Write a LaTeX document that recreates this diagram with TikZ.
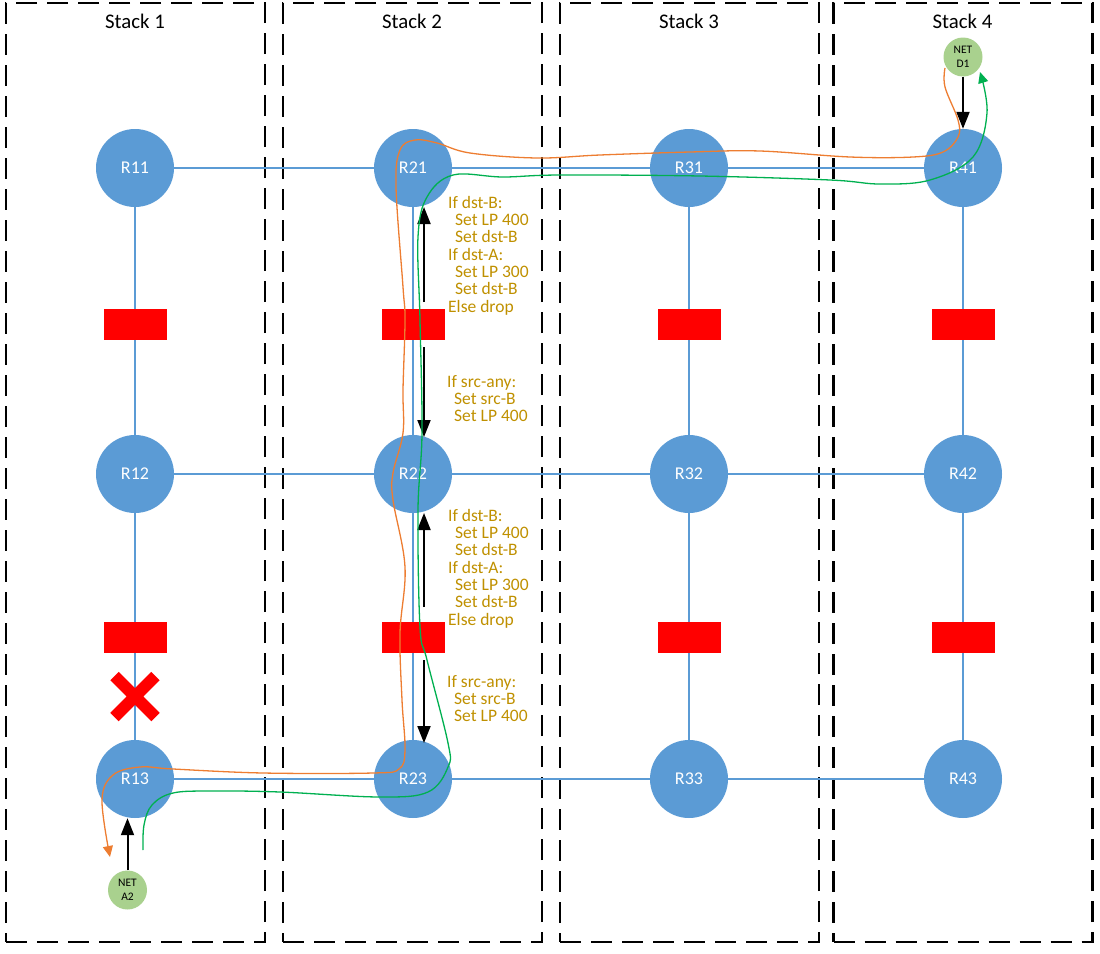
\documentclass[tikz,border=0pt]{standalone}
\usepackage{fontspec}
\setmainfont{Carlito}
\usetikzlibrary{arrows.meta,shapes.misc}
\definecolor{routerblue}{HTML}{5B9BD5}
\definecolor{netgreen}{HTML}{A9D18E}
\definecolor{pathorange}{HTML}{ED7D31}
\definecolor{pathgreen}{HTML}{00B050}
\definecolor{ruletext}{HTML}{BF9000}
\tikzset{
    stackbox/.style={draw=black,line width=2.5pt,dash pattern=on 21pt off 10pt,minimum width=259pt,minimum height=939pt,inner sep=0pt},
    stacktitle/.style={font=\fontsize{20.8}{21}\selectfont,inner sep=0pt},
    router/.style={circle,fill=routerblue,text=white,minimum size=78pt,inner sep=0pt,font=\fontsize{18}{18}\selectfont},
    netnode/.style={circle,fill=netgreen,minimum size=39pt,inner sep=0pt,align=center,font=\fontsize{11.5}{14}\selectfont},
    firewall/.style={fill=red,minimum width=63pt,minimum height=31pt,inner sep=0pt},
    link/.style={draw=routerblue,line width=1.5pt},
    policy/.style={-{Triangle[width=13pt,length=17pt]},black,line width=2pt},
    rule/.style={text=ruletext,anchor=north west,align=left,inner sep=0pt,font=\fontsize{17.5}{17.3}\selectfont},
    crossmark/.style={cross out,draw=red,line width=12pt,minimum size=29pt,inner sep=0pt},
    pathline/.style={line width=1.3pt,-{Triangle[width=10pt,length=11pt]}}
}
\newcommand{\ind}{\hspace*{7pt}}
\begin{document}
\begin{tikzpicture}[x=1pt,y=-1pt]
    \useasboundingbox (0,0) rectangle (1100,953);

    %% Stacks
    \foreach \num/\x in {1/135.5,2/412.5,3/689.5,4/963}{
        \node[stackbox] (stack\num) at (\x,472.5) {};
        \node[stacktitle] (title\num) at (\x-0.5,21) {Stack \num};
    }

    %% Routers
    \foreach \col/\x in {1/135,2/413,3/689,4/963}{
        \foreach \row/\y in {1/168,2/474,3/779}{
            \node[router] (r\col\row) at (\x,\y) {R\col\row};
        }
    }

    %% Links
    \foreach \row in {1,2,3}{
        \draw[link] (r1\row) -- (r2\row);
        \draw[link] (r2\row) -- (r3\row);
        \draw[link] (r3\row) -- (r4\row);
    }
    \foreach \col in {1,2,3,4}{
        \draw[link] (r\col1) -- (r\col2);
        \draw[link] (r\col2) -- (r\col3);
    }

    %% Firewalls
    \foreach \col/\x in {1/135,2/413,3/689.5,4/963.5}{
        \node[firewall] (fwa\col) at (\x,324.5) {};
        \node[firewall] (fwb\col) at (\x,637.5) {};
    }
    \node[crossmark] (fail) at (135,696.5) {};

    %% Networks
    \node[netnode] (netd) at (963,57) {NET\\D1};
    \node[netnode] (neta) at (127.5,890) {NET\\A2};
    \draw[policy] (netd) -- (r41);
    \draw[policy] (neta) -- (neta |- r13.south);

    %% Policy arrows
    \coordinate (pa) at (424,302);
    \coordinate (pb) at (424,347);
    \coordinate (pc) at (424,607);
    \coordinate (pd) at (424,660);
    \draw[policy] (pa) -- (424,207);
    \draw[policy] (pb) -- (424,437);
    \draw[policy] (pc) -- (424,513);
    \draw[policy] (pd) -- (424,743);

    %% Policy text
    \node[rule] (rulea) at (448,196) {If dst-B:\\\ind Set LP 400\\\ind Set dst-B\\If dst-A:\\\ind Set LP 300\\\ind Set dst-B\\Else drop};
    \node[rule] (ruleb) at (447,375) {If src-any:\\\ind Set src-B\\\ind Set LP 400};
    \node[rule] (rulec) at (448,509) {If dst-B:\\\ind Set LP 400\\\ind Set dst-B\\If dst-A:\\\ind Set LP 300\\\ind Set dst-B\\Else drop};
    \node[rule] (ruled) at (447,675) {If src-any:\\\ind Set src-B\\\ind Set LP 400};

    %% Traffic paths
    \coordinate (orangestart) at (945,68);
    \coordinate (orangeend) at (110,857);
    \coordinate (greenstart) at (143,850);
    \coordinate (greenend) at (980,72);
    \draw[pathline,pathorange] plot[smooth,tension=.6] coordinates {(orangestart) (945,87) (958,120) (958,137) (943,152) (913,157) (850,157) (760,151) (690,152) (600,155) (537,158) (470,153) (437,143) (415,140) (400,150) (396,187) (403,287) (405,320) (403,390) (403,433) (393,473) (393,500) (405,567) (400,633) (402,700) (405,750) (399,769) (373,773) (263,773) (173,769) (140,767) (113,775) (102,800) (orangeend)};
    \draw[pathline,pathgreen] plot[smooth,tension=.6] coordinates {(greenstart) (144,825) (152,805) (173,793) (213,791) (280,792) (380,797) (428,792) (448,767) (448,743) (427,660) (420,627) (418,510) (422,433) (420,320) (418,237) (427,197) (453,175) (503,177) (560,175) (700,176) (830,180) (880,184) (930,180) (973,157) (987,113) (greenend)};
\end{tikzpicture}
\end{document}
